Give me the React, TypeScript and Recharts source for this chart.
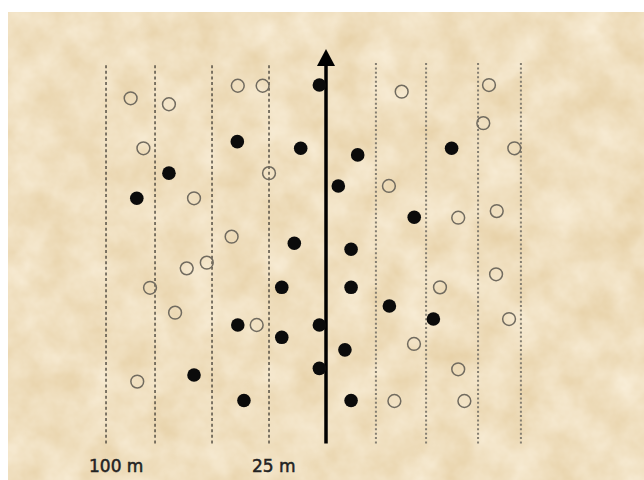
import React from 'react';
import { ScatterChart, Scatter, XAxis, YAxis, ReferenceLine } from 'recharts';

// Positions in metres: x = offset from the transect line, y = distance along it
const hollowPoints = [
  { x: -85.7, y: 151.2 }, { x: -68.9, y: 148.6 }, { x: -38.7, y: 156.7 }, { x: -27.8, y: 156.7 },
  { x: -80.1, y: 129.3 }, { x: -25.0, y: 118.4 }, { x: -57.9, y: 107.4 }, { x: -41.4, y: 90.6 },
  { x: -52.3, y: 79.2 }, { x: -61.1, y: 76.7 }, { x: -77.2, y: 68.2 }, { x: -66.2, y: 57.3 },
  { x: -30.4, y: 51.9 }, { x: -82.8, y: 27.1 },
  { x: 33.2, y: 154.1 }, { x: 71.5, y: 157.0 }, { x: 69.0, y: 140.3 }, { x: 82.6, y: 129.3 },
  { x: 27.6, y: 112.8 }, { x: 58.0, y: 98.9 }, { x: 74.9, y: 101.8 }, { x: 74.6, y: 74.1 },
  { x: 50.0, y: 68.4 }, { x: 80.3, y: 54.5 }, { x: 38.6, y: 43.6 }, { x: 58.0, y: 32.5 },
  { x: 30.0, y: 18.6 }, { x: 60.7, y: 18.6 },
];

const filledPoints = [
  { x: -38.9, y: 132.2 }, { x: -68.9, y: 118.4 }, { x: -83.0, y: 107.4 }, { x: -2.9, y: 157.0 },
  { x: -11.1, y: 129.3 }, { x: 13.9, y: 126.4 }, { x: 5.4, y: 112.8 }, { x: -13.9, y: 87.7 },
  { x: 11.0, y: 85.1 }, { x: -19.4, y: 68.4 }, { x: 11.0, y: 68.4 }, { x: -38.7, y: 51.9 },
  { x: -2.9, y: 51.9 }, { x: -19.4, y: 46.5 }, { x: 8.3, y: 41.0 }, { x: -2.9, y: 32.9 },
  { x: -57.9, y: 30.0 }, { x: -36.0, y: 18.8 }, { x: 11.0, y: 18.8 },
  { x: 55.1, y: 129.3 }, { x: 38.7, y: 99.1 }, { x: 27.8, y: 60.2 }, { x: 47.1, y: 54.5 },
];

const leftLines = [-96.5, -75, -50, -25];
const rightLines = [21.9, 43.9, 66.7, 85.5];
const lineBottom = 0;
const lineTop = 166.7;
const transectX = 0;
const transectTop = 166;
const arrowTip = [{ x: 0, y: 172.8 }];

const distanceLabels = [
  { x: -96.5, y: -12.5, label: '100 m' },
  { x: -25, y: -12.5, label: '25 m' },
];

const HollowDot = (p: any) => (
  <circle cx={p.cx} cy={p.cy} r={6.4} fill="none" stroke="#716b5f" strokeWidth={1.5} />
);
const FilledDot = (p: any) => <circle cx={p.cx} cy={p.cy} r={6.8} fill="#0b0b0b" />;
const ArrowHead = (p: any) => (
  <polygon
    points={`${p.cx},${p.cy} ${p.cx - 9},${p.cy + 17} ${p.cx + 9},${p.cy + 17}`}
    fill="#000"
  />
);
const LabelText = (p: any) => (
  <text
    x={p.cx - 17}
    y={p.cy}
    fontFamily="'DejaVu Sans', sans-serif"
    fontSize={17}
    fill="#232323"
    stroke="#232323"
    strokeWidth={0.5}
    textAnchor="start"
  >
    {p.payload.label}
  </text>
);

export default function App() {
  const W = 636;
  const H = 468;
  return (
    <div style={{ position: 'fixed', left: 8, top: 12, width: W, height: H, background: '#efdfbe' }}>
      <svg width={W} height={H} style={{ position: 'absolute', left: 0, top: 0 }}>
        <filter id="paper" x="0" y="0" width="100%" height="100%" colorInterpolationFilters="sRGB">
          <feTurbulence type="fractalNoise" baseFrequency="0.028" numOctaves={4} seed={7} />
          <feColorMatrix
            type="matrix"
            values="0.08 0 0 0 0.90  0.13 0 0 0 0.81  0.22 0 0 0 0.64  0 0 0 0 1"
          />
        </filter>
        <rect width={W} height={H} filter="url(#paper)" />
      </svg>
      <div style={{ position: 'absolute', left: 0, top: 0 }}>
        <ScatterChart width={W} height={H} margin={{ top: 0, right: 0, bottom: 0, left: 0 }}>
          <XAxis type="number" dataKey="x" domain={[-139.5, 139.5]} hide allowDataOverflow />
          <YAxis type="number" dataKey="y" domain={[-16, 189]} hide allowDataOverflow width={0} />
          {leftLines.map((v) => (
            <ReferenceLine
              key={'l' + v}
              segment={[{ x: v, y: lineBottom }, { x: v, y: lineTop }]}
              stroke="#3e3a32"
              strokeWidth={1.3}
              strokeDasharray="3 2.6"
            />
          ))}
          {rightLines.map((v) => (
            <ReferenceLine
              key={'r' + v}
              segment={[{ x: v, y: lineBottom }, { x: v, y: lineTop }]}
              stroke="#847e71"
              strokeWidth={2}
              strokeDasharray="2 2.4"
            />
          ))}
          <ReferenceLine
            segment={[{ x: transectX, y: lineBottom }, { x: transectX, y: transectTop }]}
            stroke="#000"
            strokeWidth={3.5}
          />
          <Scatter data={arrowTip} shape={ArrowHead} isAnimationActive={false} />
          <Scatter data={hollowPoints} shape={HollowDot} isAnimationActive={false} />
          <Scatter data={filledPoints} shape={FilledDot} isAnimationActive={false} />
          <Scatter data={distanceLabels} shape={LabelText} isAnimationActive={false} />
        </ScatterChart>
      </div>
    </div>
  );
}
